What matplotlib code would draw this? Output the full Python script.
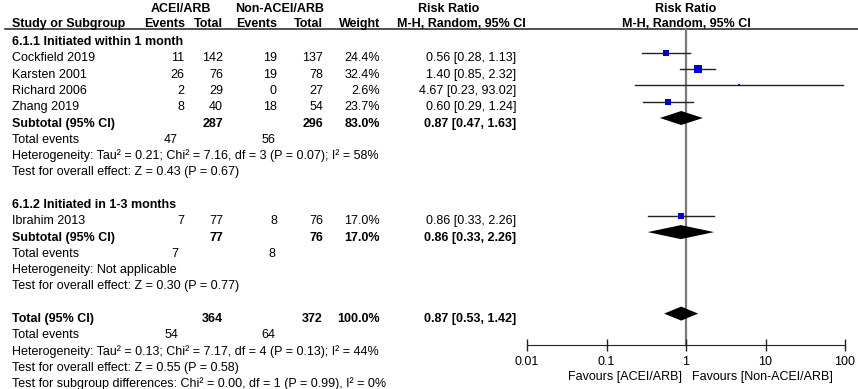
import numpy as np
import matplotlib

matplotlib.use("Agg")
import matplotlib.pyplot as plt

plt.rcParams.update({"font.family": ["Liberation Sans", "DejaVu Sans"], "font.size": 9})

# study rows
studies = ["Cockfield 2019", "Karsten 2001", "Richard 2006", "Zhang 2019", "Ibrahim 2013"]
ev_acei = [11, 26, 2, 8, 7]
n_acei = [142, 76, 29, 40, 77]
ev_non = [19, 19, 0, 18, 8]
n_non = [137, 78, 27, 54, 76]
weight = [24.4, 32.4, 2.6, 23.7, 17.0]
rr = [0.56, 1.40, 4.67, 0.60, 0.86]
rr_lo = [0.28, 0.85, 0.23, 0.29, 0.33]
rr_hi = [1.13, 2.32, 93.02, 1.24, 2.26]
study_rows = [3, 4, 5, 6, 13]

# pooled rows: subgroup 1, subgroup 2, overall
pool_labels = ["Subtotal (95% CI)", "Subtotal (95% CI)", "Total (95% CI)"]
pool_n_acei = [287, 77, 364]
pool_n_non = [296, 76, 372]
pool_weight = [83.0, 17.0, 100.0]
pool_rr = [0.87, 0.86, 0.87]
pool_lo = [0.47, 0.33, 0.53]
pool_hi = [1.63, 2.26, 1.42]
pool_ev_acei = [47, 7, 54]
pool_ev_non = [56, 8, 64]
pool_rows = [7, 14, 19]

groups = ["6.1.1 Initiated within 1 month", "6.1.2 Initiated in 1-3 months"]
group_rows = [2, 12]
notes = [
    (9, "Heterogeneity: Tau\u00b2 = 0.21; Chi\u00b2 = 7.16, df = 3 (P = 0.07); I\u00b2 = 58%"),
    (10, "Test for overall effect: Z = 0.43 (P = 0.67)"),
    (16, "Heterogeneity: Not applicable"),
    (17, "Test for overall effect: Z = 0.30 (P = 0.77)"),
    (21, "Heterogeneity: Tau\u00b2 = 0.13; Chi\u00b2 = 7.17, df = 4 (P = 0.13); I\u00b2 = 44%"),
    (22, "Test for overall effect: Z = 0.55 (P = 0.58)"),
    (23, "Test for subgroup differences: Chi\u00b2 = 0.00, df = 1 (P = 0.99), I\u00b2 = 0%"),
]
ticks = [0.01, 0.1, 1, 10, 100]
tick_labels = ["0.01", "0.1", "1", "10", "100"]


def ymark(i):
    return 36.5 + 16.3 * (i - 2)


def ytext(i):
    return ymark(i) + 8.5


W, H = 858, 389
fig = plt.figure(figsize=(W / 100, H / 100), dpi=100)
ax = fig.add_axes([0, 0, 1, 1])
ax.set_xlim(0, W)
ax.set_ylim(H, 0)
ax.axis("off")

x_left = 12
x_ev1, x_n1, x_ev2, x_n2, x_w, x_rr = 184, 223, 277, 323, 380, 516
kw = dict(va="baseline")

# header
ax.text(181, 12, "ACEI/ARB", ha="center", weight="bold", **kw)
ax.text(280, 12, "Non-ACEI/ARB", ha="center", weight="bold", **kw)
ax.text(449, 12, "Risk Ratio", ha="center", weight="bold", **kw)
ax.text(686, 12, "Risk Ratio", ha="center", weight="bold", **kw)
hy = 26.5
ax.text(x_left, hy, "Study or Subgroup", ha="left", weight="bold", **kw)
ax.text(x_ev1 + 1, hy, "Events", ha="right", weight="bold", **kw)
ax.text(x_n1, hy, "Total", ha="right", weight="bold", **kw)
ax.text(x_ev2, hy, "Events", ha="right", weight="bold", **kw)
ax.text(x_n2, hy, "Total", ha="right", weight="bold", **kw)
ax.text(x_w, hy, "Weight", ha="right", weight="bold", **kw)
ax.text(461, hy, "M-H, Random, 95% CI", ha="center", weight="bold", **kw)
ax.text(686, hy, "M-H, Random, 95% CI", ha="center", weight="bold", **kw)
ax.plot([5, W], [28.8, 28.8], color="#333333", lw=1.2)

for g, r in zip(groups, group_rows):
    ax.text(x_left, ytext(r), g, ha="left", weight="bold", **kw)

for k, r in enumerate(study_rows):
    y = ytext(r)
    ax.text(x_left, y, studies[k], ha="left", **kw)
    ax.text(x_ev1, y, str(ev_acei[k]), ha="right", **kw)
    ax.text(x_n1, y, str(n_acei[k]), ha="right", **kw)
    ax.text(x_ev2, y, str(ev_non[k]), ha="right", **kw)
    ax.text(x_n2, y, str(n_non[k]), ha="right", **kw)
    ax.text(x_w, y, f"{weight[k]:.1f}%", ha="right", **kw)
    ax.text(x_rr, y, f"{rr[k]:.2f} [{rr_lo[k]:.2f}, {rr_hi[k]:.2f}]", ha="right", **kw)

for k, r in enumerate(pool_rows):
    y = ytext(r)
    ax.text(x_left, y, pool_labels[k], ha="left", weight="bold", **kw)
    ax.text(x_n1, y, str(pool_n_acei[k]), ha="right", weight="bold", **kw)
    ax.text(x_n2, y, str(pool_n_non[k]), ha="right", weight="bold", **kw)
    ax.text(x_w, y, f"{pool_weight[k]:.1f}%", ha="right", weight="bold", **kw)
    ax.text(x_rr, y, f"{pool_rr[k]:.2f} [{pool_lo[k]:.2f}, {pool_hi[k]:.2f}]",
            ha="right", weight="bold", **kw)
    y2 = ytext(r + 1)
    ax.text(x_left, y2, "Total events", ha="left", **kw)
    ax.text(x_ev1 - 6, y2, str(pool_ev_acei[k]), ha="right", **kw)
    ax.text(x_ev2 - 2, y2, str(pool_ev_non[k]), ha="right", **kw)

for r, s in notes:
    ax.text(x_left, ytext(r), s, ha="left", **kw)

# forest panel on a log scale, same pixel rows
fx0, fx1 = 527, 845
axf = fig.add_axes([fx0 / W, 0, (fx1 - fx0) / W, 1])
axf.set_xscale("log")
axf.set_xlim(0.01, 100)
axf.set_ylim(H, 0)
axf.patch.set_alpha(0)
for s in ["left", "right", "top"]:
    axf.spines[s].set_visible(False)
axf.spines["bottom"].set_position(("data", 345))
axf.spines["bottom"].set_color("#222222")
axf.set_yticks([])
axf.set_xticks(ticks)
axf.set_xticklabels(tick_labels)
axf.minorticks_off()
axf.tick_params(axis="x", direction="inout", length=8, width=1, color="#222222", pad=4, labelsize=9)
axf.plot([1, 1], [28.8, 345], color="#7a7a7a", lw=1.6, zorder=1)

for k, r in enumerate(study_rows):
    y = ymark(r)
    axf.plot([rr_lo[k], rr_hi[k]], [y, y], color="#222222", lw=1, zorder=2)
    axf.plot(rr[k], y, marker="s", color="#0000cc", ms=1.0 * np.sqrt(weight[k]), mew=0, zorder=3)

for k, r in enumerate(pool_rows):
    y = ymark(r)
    axf.fill([pool_lo[k], pool_rr[k], pool_hi[k], pool_rr[k]], [y, y - 7, y, y + 7],
             color="black", lw=0, zorder=3)

ax.text(682, 380, "Favours [ACEI/ARB]", ha="right", **kw)
ax.text(692, 380, "Favours [Non-ACEI/ARB]", ha="left", **kw)

fig.savefig("out.png", dpi=100)
